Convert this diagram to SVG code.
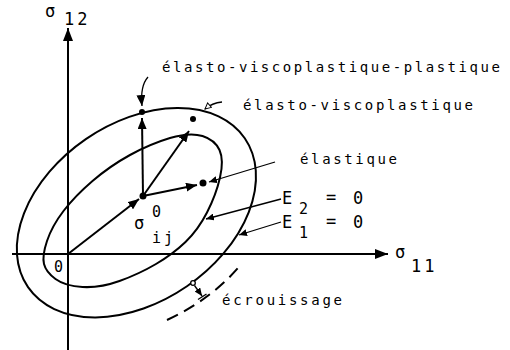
<svg xmlns="http://www.w3.org/2000/svg" width="510" height="350" viewBox="0 0 510 350">
<style>
  .ln { fill: none; stroke: #000; stroke-width: 2; }
  .thin { fill: none; stroke: #000; stroke-width: 1.3; }
  .lbl { font-family: "DejaVu Sans Mono", "Liberation Mono", monospace; font-size: 14px; fill: #000; }
  .math { font-family: "DejaVu Sans Mono", "Liberation Mono", monospace; font-size: 17px; fill: #000; }
  .sub { font-family: "DejaVu Sans Mono", "Liberation Mono", monospace; font-size: 15px; fill: #000; }
  .dot { fill: #000; }
</style>
<defs>
  <marker id="ah" markerUnits="userSpaceOnUse" markerWidth="12" markerHeight="9" refX="11" refY="4.5" orient="auto">
    <path d="M0,0 L11,4.5 L0,9 z" fill="#000"/>
  </marker>
  <marker id="axh" markerUnits="userSpaceOnUse" markerWidth="13" markerHeight="10" refX="13" refY="5" orient="auto">
    <path d="M0,0 L13,5 L0,10 z" fill="#000"/>
  </marker>
  <marker id="sh" markerUnits="userSpaceOnUse" markerWidth="9" markerHeight="7" refX="8" refY="3.5" orient="auto">
    <path d="M0,0 L8,3.5 L0,7 z" fill="#000"/>
  </marker>
  <marker id="oh" markerUnits="userSpaceOnUse" markerWidth="9" markerHeight="8" refX="7" refY="3.5" orient="auto">
    <path d="M1,0.5 L7,3.5 L1,6.5 z" fill="#fff" stroke="#000" stroke-width="1"/>
  </marker>
</defs>

<g id="axes">
  <line class="ln" x1="68" y1="350" x2="68" y2="28" marker-end="url(#axh)"/>
  <line class="ln" x1="12" y1="254" x2="388" y2="254" marker-end="url(#axh)"/>
  <text class="math" x="45" y="17">σ</text>
  <text class="math" x="64" y="25" letter-spacing="3">12</text>
  <text class="math" x="395" y="258">σ</text>
  <text class="math" x="411" y="272" letter-spacing="3">11</text>
  <text class="sub" x="54" y="272">0</text>
</g>

<g id="surface-outer">
  <ellipse class="ln" cx="136.4" cy="212.7" rx="131.5" ry="89.3" transform="rotate(-34.5 136.4 212.7)"/>
</g>

<g id="surface-inner">
  <path class="ln" d="M47,241 Q52,226 63.5,211 Q75,196 92.5,181 Q110,166 130,155 Q150,144 170,138 Q190,132 202.5,136 Q215,140 219.5,150 Q224,160 220,177.5 Q216,195 207,212.5 Q198,230 185.5,242 Q173,254 156,264 Q139,274 119.5,281 Q100,288 82.5,287 Q65,286 55.5,279 Q46,272 44,264 Q42,256 47,241 Z"/>
</g>

<g id="hardening">
  <path class="ln" d="M167,320 Q210,300 238,268" stroke-dasharray="12,7"/>
  <circle cx="193" cy="283" r="2.3" fill="#fff" stroke="#000" stroke-width="1.3"/>
  <line class="thin" x1="194.5" y1="285.5" x2="202" y2="296" marker-end="url(#sh)"/>
  <line class="thin" x1="198" y1="299.5" x2="206.5" y2="294"/>
</g>

<g id="points">
  <circle class="dot" cx="142" cy="112" r="3"/>
  <circle class="dot" cx="193" cy="119" r="3"/>
  <circle class="dot" cx="143" cy="196" r="3.5"/>
  <circle class="dot" cx="203" cy="183" r="3.5"/>
</g>

<g id="connectors">
  <line class="ln" x1="68" y1="254" x2="139" y2="199" marker-end="url(#ah)"/>
  <line class="ln" x1="143" y1="196" x2="142" y2="118" marker-end="url(#ah)"/>
  <line class="ln" x1="143" y1="196" x2="189" y2="131" marker-end="url(#ah)"/>
  <line class="ln" x1="143" y1="196" x2="197" y2="185" marker-end="url(#ah)"/>
  <path class="thin" d="M148,77 Q140,86 142,106" marker-end="url(#ah)"/>
  <path class="thin" d="M222,102 Q212,103 205,109" marker-end="url(#oh)"/>
  <line class="thin" x1="275" y1="162" x2="209" y2="182" marker-end="url(#sh)"/>
  <line class="thin" x1="281" y1="199" x2="206" y2="219" marker-end="url(#sh)"/>
  <line class="thin" x1="281" y1="222" x2="239" y2="235" marker-end="url(#sh)"/>
</g>

<g id="labels">
  <text class="lbl" x="162" y="72" textLength="338" lengthAdjust="spacing">élasto-viscoplastique-plastique</text>
  <text class="lbl" x="243" y="110" textLength="230" lengthAdjust="spacing">élasto-viscoplastique</text>
  <text class="lbl" x="300" y="164" textLength="97" lengthAdjust="spacing">élastique</text>
  <text class="lbl" x="222" y="305" textLength="120" lengthAdjust="spacing">écrouissage</text>
  <text class="math" x="134" y="229">σ</text>
  <text class="sub" x="152" y="217">0</text>
  <text class="sub" x="152" y="243" letter-spacing="3">ij</text>
  <text class="math" x="282" y="204">E</text>
  <text class="sub" x="299" y="214">2</text>
  <text class="math" x="326" y="203">=</text>
  <text class="math" x="353" y="204">0</text>
  <text class="math" x="282" y="228">E</text>
  <text class="sub" x="299" y="238">1</text>
  <text class="math" x="326" y="227">=</text>
  <text class="math" x="353" y="228">0</text>
</g>
</svg>
